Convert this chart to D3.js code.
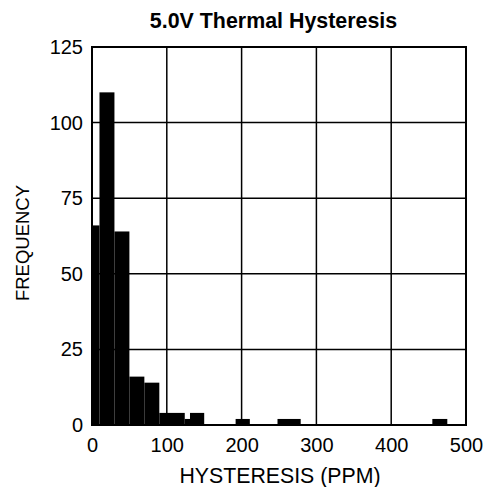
<!DOCTYPE html>
<html><head><meta charset="utf-8">
<script src="https://cdn.jsdelivr.net/npm/d3@7"></script>
<style>body{margin:0;background:#fff;} svg{display:block;font-family:"Liberation Sans",Arial,sans-serif;}</style>
</head><body>
<script>
const binStart = [0, 10, 30, 50, 70, 90, 124, 131, 192, 248, 455];
const binEnd   = [10, 30, 50, 70, 90, 124, 131, 150, 211, 279, 475];
const frequency = [66, 110, 64, 16, 14, 4, 2, 4, 2, 2, 2];
const xTicks = [0, 100, 200, 300, 400, 500];
const yTicks = [0, 25, 50, 75, 100, 125];
const title = "5.0V Thermal Hysteresis";
const xLabel = "HYSTERESIS (PPM)";
const yLabel = "FREQUENCY";

const W = 483, H = 487;
const m = {l: 92, r: 17, t: 47, b: 62};
const svg = d3.select("body").append("svg").attr("width", W).attr("height", H);
const x = d3.scaleLinear().domain([0, 500]).range([m.l, W - m.r]);
const y = d3.scaleLinear().domain([0, 125]).range([H - m.b, m.t]);

// grid
svg.append("g").selectAll("line.v").data(xTicks.slice(1, -1)).join("line")
  .attr("x1", d => x(d)).attr("x2", d => x(d)).attr("y1", y(125)).attr("y2", y(0))
  .attr("stroke", "#000").attr("stroke-width", 1.5);
svg.append("g").selectAll("line.h").data(yTicks.slice(1, -1)).join("line")
  .attr("y1", d => y(d)).attr("y2", d => y(d)).attr("x1", x(0)).attr("x2", x(500))
  .attr("stroke", "#000").attr("stroke-width", 1.5);

// bars
const bins = binStart.map((s, i) => ({x0: s, x1: binEnd[i], v: frequency[i]}));
svg.append("g").selectAll("rect").data(bins).join("rect")
  .attr("x", d => x(d.x0)).attr("width", d => x(d.x1) - x(d.x0))
  .attr("y", d => y(d.v)).attr("height", d => y(0) - y(d.v))
  .attr("fill", "#000");

// frame
svg.append("rect").attr("x", x(0)).attr("y", y(125))
  .attr("width", x(500) - x(0)).attr("height", y(0) - y(125))
  .attr("fill", "none").attr("stroke", "#000").attr("stroke-width", 2);

// axes labels via d3 axes
const xa = svg.append("g").attr("transform", `translate(0,${y(0)})`)
  .call(d3.axisBottom(x).tickValues(xTicks).tickSize(0).tickPadding(13));
const ya = svg.append("g").attr("transform", `translate(${x(0)},0)`)
  .call(d3.axisLeft(y).tickValues(yTicks).tickSize(0).tickPadding(9));
[xa, ya].forEach(a => {
  a.select(".domain").remove();
  a.selectAll("text").attr("font-size", 20).attr("fill", "#000")
   .attr("font-family", "Liberation Sans, Arial, sans-serif");
});

svg.append("text").attr("x", 273.5).attr("y", 28).attr("text-anchor", "middle")
  .attr("font-size", 21.4).attr("font-weight", "bold").text(title);
svg.append("text").attr("x", 280).attr("y", 483).attr("text-anchor", "middle")
  .attr("font-size", 21.3).text(xLabel);
svg.append("text").attr("transform", `translate(29,243) rotate(-90)`).attr("text-anchor", "middle")
  .attr("font-size", 18.5).text(yLabel);
</script>
</body></html>
